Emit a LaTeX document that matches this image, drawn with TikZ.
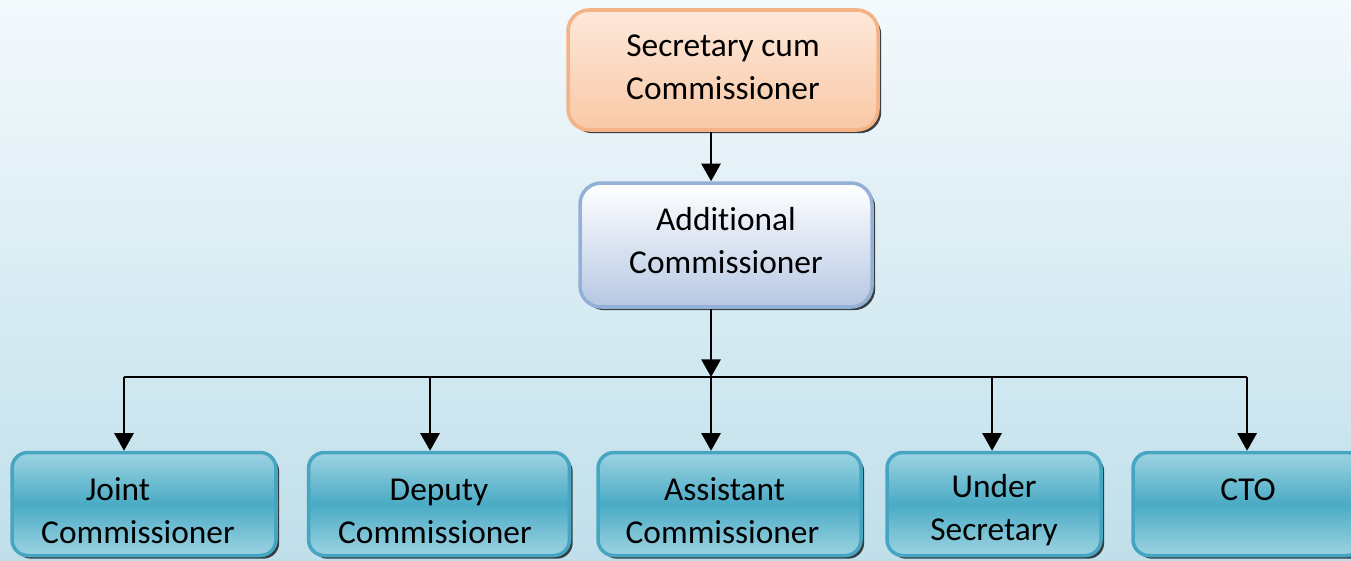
\documentclass[tikz,border=0pt]{standalone}
\usepackage{fontspec}
\setmainfont[Ligatures=NoCommon]{Carlito}
\usetikzlibrary{arrows.meta,shadows}

\definecolor{bgtop}{HTML}{F4F9FC}
\definecolor{bgbot}{HTML}{BFDFEA}
\definecolor{orgtop}{HTML}{FDE8DA}
\definecolor{orgbot}{HTML}{F9C8A5}
\definecolor{orgline}{HTML}{F4B386}
\definecolor{addtop}{HTML}{FFFFFF}
\definecolor{addbot}{HTML}{B6C7E3}
\definecolor{addline}{HTML}{93B0D6}
\definecolor{tealtop}{HTML}{9DD3E2}
\definecolor{tealmid}{HTML}{4AABC5}
\definecolor{tealline}{HTML}{46A5C0}

% vertical offsets of the text in the boxes
\newcommand{\lowr}{\rule{0pt}{10.3pt}}
\newcommand{\upr}[1]{\rule[-#1]{0pt}{0pt}}

\begin{document}
\begin{tikzpicture}[scale=0.1]
\tikzstyle{every node}+=[inner sep=0pt, font=\fontsize{9.5}{12.2}\selectfont, align=center]
\tikzstyle{box}=[draw, line width=1pt, rounded corners=6pt,
  drop shadow={shadow xshift=0.9pt, shadow yshift=-0.9pt, fill=black!75!gray, opacity=0.85}]
\tikzstyle{topbox}=[box, draw=orgline, top color=orgtop, bottom color=orgbot,
  minimum width=3.10cm, minimum height=1.20cm]
\tikzstyle{addbox}=[box, draw=addline, top color=addtop, bottom color=addbot,
  minimum width=2.92cm, minimum height=1.24cm]
\tikzstyle{unit}=[box, draw=tealline, top color=tealtop, bottom color=tealtop, middle color=tealmid,
  minimum height=1.03cm, rounded corners=4.5pt]
\tikzstyle{link}=[line width=0.75pt, -{Triangle[width=5.4pt,length=5pt]}]

% background
\shade [top color=bgtop, bottom color=bgbot] (0,0) rectangle (135.1,-56);
\useasboundingbox (0,0) rectangle (135.1,-56);

% boxes
\node [topbox] (sec) at (72.3,-7.0) {Secretary cum\\Commissioner\upr{1.6pt}};
\node [addbox] (add) at (72.6,-24.5) {Additional\\Commissioner\upr{2.6pt}};

\begin{scope}
\clip (0,0) rectangle (135.1,-56);
\node [unit, minimum width=2.64cm] (joint) at (14.4,-50.4)
  {\lowr Joint\hspace*{14.8pt}\\Commissioner\hspace*{3.4pt}};
\node [unit, minimum width=2.61cm] (deputy) at (43.9,-50.4)
  {\lowr Deputy\\Commissioner\hspace*{2.3pt}};
\node [unit, minimum width=2.63cm] (assist) at (72.95,-50.4)
  {\lowr Assistant\hspace*{2.8pt}\\Commissioner\hspace*{4pt}};
\node [unit, minimum width=2.14cm] (under) at (99.4,-50.4) {\lowr Under\\Secretary};
\node [unit, minimum width=2.30cm] (cto) at (124.8,-50.4) {\lowr CTO\\\phantom{Commissioner}};
\end{scope}

% connectors
\coordinate (trunk) at (71.1,-37.7);
\coordinate (b1) at (12.4,-37.7);
\coordinate (b2) at (43.0,-37.7);
\coordinate (b4) at (99.2,-37.7);
\coordinate (b5) at (124.7,-37.7);
\draw [link] (sec.south -| trunk) -- (add.north -| trunk);
\draw [link] (add.south -| trunk) -- (trunk);
\draw [line width=0.75pt] (b1) -- (b5);
\draw [link] (b1) -- (b1 |- joint.north);
\draw [link] (b2) -- (b2 |- deputy.north);
\draw [link] (trunk) -- (trunk |- assist.north);
\draw [link] (b4) -- (b4 |- under.north);
\draw [link] (b5) -- (b5 |- cto.north);
\end{tikzpicture}
\end{document}
